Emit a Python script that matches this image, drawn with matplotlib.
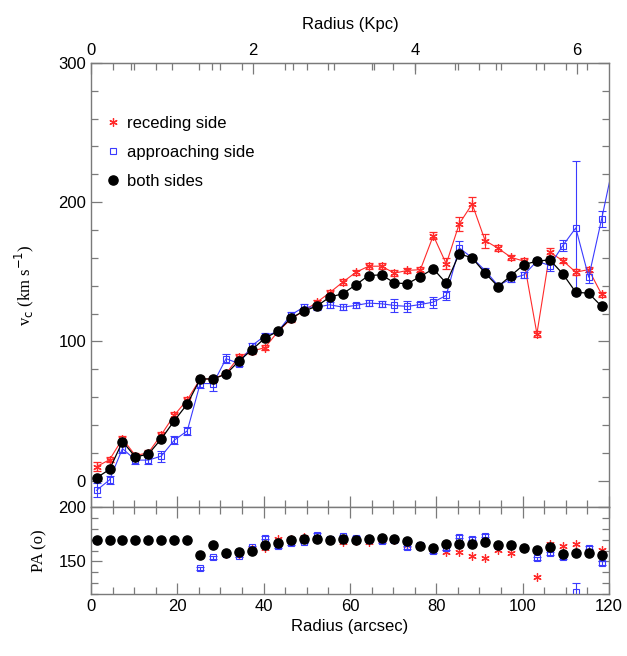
import matplotlib
matplotlib.use("Agg")
import matplotlib.pyplot as plt
from matplotlib.lines import Line2D
from matplotlib.ticker import MultipleLocator, FixedLocator

plt.rcParams["font.family"] = ["Liberation Sans", "DejaVu Sans"]

# radius of each ring (arcsec)
radius = [1.3 + 3.0 * i for i in range(40)]
radius_blue = radius + [121.3]  # last approaching point lies beyond the frame

# rotation velocity (km/s)
v_rec = [10, 15, 30, 18, 20, 33, 47, 58, 73, 73, 77, 89, 93, 95.5, 107, 116, 122, 128, 135, 142.5,
         149.5, 154, 154, 149, 151, 151.5, 176, 155.7, 184.4, 198.7, 172.4, 166.9, 160.4, 157.6,
         105.5, 164, 158, 149.7, 151.6, 133.7]
v_rec_err = [3, 2, 2, 2, 2, 2, 2, 2, 2, 2, 2, 2, 2, 2, 2, 2, 2, 2, 2, 2,
             2, 2, 2, 2, 2, 2, 2.5, 4, 5, 5, 5, 2, 2, 2, 2, 3, 2, 2, 2, 2]
v_app = [-7, 0.5, 23, 14.7, 14.7, 17.6, 29, 35.7, 69.7, 69.7, 87.6, 84, 97, 104, 107, 119, 124.6,
         124.6, 126.3, 124.6, 125.8, 127.5, 127, 125.8, 125.1, 126.5, 128.2, 133, 167.2, 160,
         150.9, 140.1, 144.9, 147.8, 157.6, 154.5, 168.8, 181.5, 146.1, 188, 232]
v_app_err = [5, 3, 3, 3, 3, 4, 3, 3, 3, 5, 3, 2, 2, 2, 2, 2, 2, 2, 2, 2,
             2, 2, 2, 5, 4, 2, 4, 3, 5, 2, 2, 2, 2, 2, 2, 4, 4, 48, 4, 6, 0]
v_both = [2, 8, 28, 17, 19, 30, 43, 55, 73, 73, 76.5, 86, 94, 102.4, 107.2, 116.7, 121.7, 125.3,
          131.8, 134.2, 140.5, 147.3, 147.8, 142, 141.4, 146.6, 152.1, 141.8, 162.9, 160, 149,
          139.4, 147.3, 155.2, 157.6, 158.6, 148.5, 135.3, 134.6, 125.1]

# position angle (deg)
pa_rec = [170, 170, 170, 170, 170, 170, 170, 170, 156, 165, 157, 156, 161, 162.7, 171, 170.7, 172,
          171, 170, 168, 168.6, 168, 170, 170, 165.5, 164, 161, 158.7, 159, 155.3, 153.4, 160.6,
          157.4, 162.3, 135.8, 166.1, 163.9, 166.1, 159, 160.6]
pa_app = [170, 170, 170, 170, 170, 170, 170, 170, 143.5, 153.7, 157, 155.3, 163, 171.7, 164.2,
          167, 168, 174.7, 171, 173, 171.4, 170, 168.6, 169.5, 163, 165, 159.3, 162.4, 172.6, 171,
          173.5, 164.5, 165.5, 162.3, 152.8, 157.4, 153.7, 122, 162.7, 148.5]
pa_app_err = [1.5] * 37 + [8, 1.5, 1.5]
pa_both = [170, 170, 170, 170, 170, 170, 170, 170, 155.9, 165.5, 157.4, 158.3, 159.3, 165.5, 167,
           169.8, 171, 171, 169.8, 171, 170.1, 171, 171.3, 171, 168.6, 164.5, 162.7, 166.4, 166.4,
           166.4, 168, 165.5, 165.5, 162.3, 160.8, 163, 156.8, 157.8, 157.8, 155.9]

kpc_ticks = [0, 2, 4, 6]
ARCSEC_PER_KPC = 18.76
RED = "#ff2a2a"
BLUE = "#3a3aff"
FRAME = "#7a7a7a"
star = (6, 2, 0)
DOT = 6.6

fig = plt.figure(figsize=(6.27, 6.56), dpi=100)
ax = fig.add_axes([0.1451, 0.2271, 0.8262, 0.6769])
ax2 = fig.add_axes([0.1451, 0.0945, 0.8262, 0.1326])


def style(a):
    for s in a.spines.values():
        s.set_color(FRAME)
        s.set_linewidth(1.0)
    a.tick_params(which="both", direction="in", top=True, right=True, color=FRAME,
                  labelsize=12, width=0.9)
    a.tick_params(which="major", length=8)
    a.tick_params(which="minor", length=5)


# upper panel: rotation curve
ax.errorbar(radius, v_rec, yerr=v_rec_err, color=RED, lw=0.8, elinewidth=0.8, capsize=3,
            marker=star, ms=6, mew=0.9, zorder=2)
ax.errorbar(radius_blue, v_app, yerr=v_app_err, color=BLUE, lw=0.8, elinewidth=0.8, capsize=3,
            marker="s", ms=5, mfc="none", mew=0.8, zorder=2)
ax.plot(radius, v_both, color="black", lw=0.9, marker="o", ms=DOT, zorder=3)
ax.set_xlim(0, 120)
ax.set_ylim(-19, 300)
ax.xaxis.set_major_locator(MultipleLocator(20))
ax.xaxis.set_minor_locator(MultipleLocator(5))
ax.yaxis.set_major_locator(MultipleLocator(100))
ax.yaxis.set_minor_locator(MultipleLocator(20))
style(ax)
ax.tick_params(labeltop=False, labelbottom=False, top=False)
ax.set_ylabel(r"v$_{\rm c}$ (km s$^{-1}$)", family="Liberation Serif", fontsize=12, labelpad=16)

top = ax.secondary_xaxis("top", functions=(lambda r: r / ARCSEC_PER_KPC,
                                           lambda k: k * ARCSEC_PER_KPC))
top.xaxis.set_major_locator(FixedLocator(kpc_ticks))
top.xaxis.set_minor_locator(MultipleLocator(0.5))
top.tick_params(which="both", direction="in", color=FRAME, labelsize=12, width=0.9)
top.tick_params(which="major", length=8)
top.tick_params(which="minor", length=5)
top.spines["top"].set_color(FRAME)
top.set_xlabel("Radius (Kpc)", fontsize=12, labelpad=10)

handles = [
    Line2D([], [], ls="none", color=RED, marker=star, ms=6, mew=0.9),
    Line2D([], [], ls="none", color=BLUE, marker="s", ms=5, mfc="none", mew=0.8),
    Line2D([], [], ls="none", color="black", marker="o", ms=DOT),
]
ax.legend(handles, ["receding side", "approaching side", "both sides"], loc="upper left",
          bbox_to_anchor=(0.0, 0.915), frameon=False, fontsize=12, handlelength=0.8,
          handletextpad=0.45, labelspacing=0.85, numpoints=1)

# lower panel: position angle
ax2.plot(radius, pa_rec, color=RED, ls="none", marker=star, ms=6, mew=0.9, zorder=2)
ax2.errorbar(radius, pa_app, yerr=pa_app_err, color=BLUE, ls="none", elinewidth=0.8, capsize=3,
             marker="s", ms=5, mfc="none", mew=0.8, zorder=2)
ax2.plot(radius, pa_both, color="black", ls="none", marker="o", ms=DOT, zorder=3)
ax2.set_xlim(0, 120)
ax2.set_ylim(120, 200)
ax2.xaxis.set_major_locator(MultipleLocator(20))
ax2.xaxis.set_minor_locator(MultipleLocator(5))
ax2.yaxis.set_major_locator(MultipleLocator(50))
ax2.yaxis.set_minor_locator(MultipleLocator(10))
style(ax2)
ax2.set_xlabel("Radius (arcsec)", fontsize=12, labelpad=4)
ax2.set_ylabel("PA (o)", family="Liberation Serif", fontsize=12, labelpad=8)

fig.savefig("out.png", dpi=100, facecolor="white")
